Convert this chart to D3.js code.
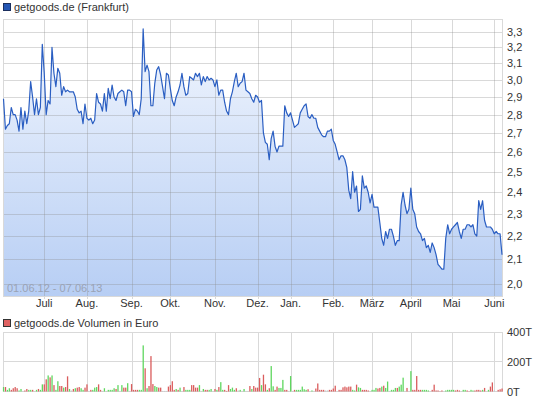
<!DOCTYPE html>
<html>
<head>
<meta charset="utf-8">
<script src="https://cdn.jsdelivr.net/npm/d3@7"></script>
<style>
  body { margin: 0; background: #fff; }
  svg text { font-family: "Liberation Sans", Arial, sans-serif; font-size: 11px; fill: #333; }
</style>
</head>
<body>
<svg id="chart" width="545" height="401"></svg>
<script>
// one close per trading day, 01.06.12 - 07.06.13
const closes = [
  2.89,2.72,2.74,2.75,2.84,2.80,2.80,2.77,2.71,2.84,
  2.72,2.82,2.75,2.82,2.99,2.90,2.80,2.89,2.80,2.84,
  3.22,3.04,2.80,2.88,2.86,3.20,3.04,2.96,3.07,3.04,
  2.91,2.96,2.93,2.94,2.93,2.93,2.93,2.90,2.83,2.81,
  2.82,2.75,2.86,2.78,2.77,2.78,2.75,2.77,2.92,2.87,
  2.86,2.82,2.92,2.82,2.95,2.89,2.97,2.90,2.88,2.92,
  2.93,2.94,2.93,2.85,2.94,2.94,2.93,2.79,2.83,2.82,
  2.80,2.89,3.32,3.05,3.09,3.05,2.85,2.85,2.98,3.06,
  3.08,3.03,2.96,2.89,3.04,3.03,2.95,2.88,2.85,2.90,
  2.93,2.97,3.04,2.96,2.91,2.92,3.02,3.01,3.00,3.04,
  3.02,3.04,2.97,3.02,2.99,3.02,3.00,3.01,3.00,2.96,
  3.00,2.91,2.94,2.94,2.87,2.82,2.80,2.89,2.93,2.99,
  3.04,2.96,2.98,2.99,3.04,2.94,2.93,2.92,2.89,2.87,
  2.91,2.90,2.87,2.88,2.70,2.65,2.64,2.56,2.67,2.71,
  2.63,2.60,2.63,2.63,2.63,2.85,2.81,2.79,2.81,2.77,
  2.73,2.74,2.75,2.81,2.83,2.85,2.86,2.79,2.78,2.80,
  2.78,2.78,2.73,2.71,2.69,2.68,2.68,2.71,2.71,2.72,
  2.66,2.64,2.60,2.56,2.58,2.58,2.56,2.52,2.41,2.37,
  2.50,2.40,2.43,2.31,2.32,2.48,2.42,2.43,2.40,2.35,
  2.39,2.33,2.33,2.33,2.26,2.19,2.16,2.22,2.19,2.23,
  2.23,2.20,2.16,2.18,2.18,2.34,2.40,2.34,2.30,2.32,
  2.42,2.32,2.30,2.24,2.22,2.21,2.18,2.19,2.15,2.16,
  2.13,2.17,2.15,2.12,2.08,2.07,2.06,2.06,2.19,2.25,
  2.21,2.23,2.24,2.25,2.26,2.22,2.19,2.23,2.23,2.25,
  2.25,2.24,2.25,2.21,2.20,2.36,2.32,2.36,2.27,2.24,
  2.24,2.24,2.23,2.21,2.22,2.21,2.21,2.12
];

// turnover in thousand euro, same trading days
const volumes = [
  30,30,11,22,11,22,30,22,7,17,
  4,7,17,11,11,11,3,11,17,11,
  48,48,82,108,95,108,43,11,69,37,
  37,26,30,102,17,7,17,22,26,30,
  22,11,26,48,4,11,11,26,30,48,
  11,4,22,4,11,11,11,22,17,43,
  4,43,26,26,56,4,50,11,11,11,
  11,11,310,156,22,37,238,50,37,30,
  26,26,4,4,4,33,43,69,11,17,
  11,26,4,30,11,11,11,43,43,26,
  26,43,4,17,11,11,11,17,4,17,
  11,30,63,11,11,4,43,17,26,11,
  22,7,11,4,17,4,4,37,17,37,
  26,26,91,43,113,48,11,22,171,35,
  11,33,24,24,78,11,11,4,104,4,
  11,11,11,11,33,15,11,15,2,7,
  4,20,54,11,11,11,7,7,11,11,
  20,39,2,11,11,28,33,28,33,33,
  11,7,46,28,24,11,11,11,7,4,
  11,11,24,20,24,33,39,24,67,4,
  11,11,24,24,33,46,93,4,24,4,
  137,11,11,104,11,11,11,11,11,7,
  2,11,46,7,7,2,7,2,7,11,
  11,11,11,7,11,7,2,11,11,7,
  2,11,7,7,11,11,7,11,24,2,
  11,33,61,7,2,11,15,20
];

// g = up day, r = down day, n = unchanged
const volumeMove = (
  "grggrrrrgg" + "nrrggrngrg" + "grrgrgrggr" + "rgrrgnrgrr" + "ggrrnrgggr" +
  "rngnggggrg" + "ngrrgnrrrr" + "gggrgrrrgg" + "rrnnnrrrrg" + "rgnrgggrrr" +
  "rgngrrggnr" + "grggrrrggg" + "rngngnnrgr" + "rrrgrrgrgg" + "rrgggrrngn" +
  "rggggggrng" + "nrrrrrnnrr" + "rrnrrrrrrr" + "ggrggrrrrn" + "gggrrgrggn" +
  "gggrgggnrn" + "grrrrrgggg" + "nrrrrrrngg" + "gggrrrnggr" + "rggrrrrgrn" +
  "grrnnrrr"
).split("");

const monthLabels = ["Juli", "Aug.", "Sep.", "Okt.", "Nov.", "Dez.", "Jan.", "Feb.", "März", "April", "Mai", "Juni"];
const monthStart = [21, 43, 66, 86, 109, 131, 148, 170, 190, 210, 231, 253]; // trading day index
const priceTicks = [2.0, 2.1, 2.2, 2.3, 2.4, 2.5, 2.6, 2.7, 2.8, 2.9, 3.0, 3.1, 3.2, 3.3];
const volumeTicks = [0, 200, 400];
const rangeLabel = "01.06.12 - 07.06.13";


const svg = d3.select("#chart");

const left = 3, right = 503;
const top1 = 19, bottom1 = 296;
const top2 = 332, bottom2 = 391.5;

const x = d3.scaleLinear().domain([0, closes.length - 1]).range([3.5, 502]);
const y = d3.scaleLog().domain([1.953, 3.386]).range([bottom1, top1]);
const yVol = d3.scaleLinear().domain([0, 400]).range([bottom2, top2]);

const fmt = d => d.toFixed(1).replace(".", ",");
const px = v => Math.round(v) + 0.5;

// gradient for the area
const grad = svg.append("defs").append("linearGradient")
    .attr("id", "areaFill")
    .attr("gradientUnits", "userSpaceOnUse")
    .attr("x1", 0).attr("y1", top1).attr("x2", 0).attr("y2", bottom1);
grad.append("stop").attr("offset", "0%").attr("stop-color", "#f3f7fe");
grad.append("stop").attr("offset", "100%").attr("stop-color", "#b7cef4");

// legend 1
svg.append("rect").attr("x", 3.5).attr("y", 3.5).attr("width", 7).attr("height", 7)
    .attr("fill", "#2456b4").attr("stroke", "#1b2f5e");
svg.append("text").attr("x", 14).attr("y", 11).text("getgoods.de (Frankfurt)");

// price panel frame + grid
const g1 = svg.append("g");

g1.append("path")
    .datum(closes)
    .attr("fill", "url(#areaFill)")
    .attr("d", d3.area()
        .x((d, i) => x(i))
        .y0(bottom1)
        .y1(d => y(d)));

g1.selectAll(".hgrid")
    .data(priceTicks)
    .join("line")
    .attr("x1", left).attr("x2", right)
    .attr("y1", d => px(y(d))).attr("y2", d => px(y(d)))
    .attr("stroke", "rgba(140,140,140,0.33)");

g1.selectAll(".vgrid")
    .data(monthStart)
    .join("line")
    .attr("x1", d => px(x(d))).attr("x2", d => px(x(d)))
    .attr("y1", top1).attr("y2", bottom1 + 3)
    .attr("stroke", "rgba(140,140,140,0.33)");

g1.append("rect")
    .attr("x", left + 0.5).attr("y", top1 + 0.5)
    .attr("width", right - left - 1).attr("height", bottom1 - top1)
    .attr("fill", "none").attr("stroke", "#d9d9d9");

g1.append("path")
    .datum(closes)
    .attr("fill", "none")
    .attr("stroke", "#2a5ec2")
    .attr("stroke-width", 1.2)
    .attr("stroke-linejoin", "round")
    .attr("d", d3.line().x((d, i) => x(i)).y(d => y(d)));

g1.append("text")
    .attr("x", 7).attr("y", 292)
    .style("fill", "#9aa3b5")
    .text(rangeLabel);

g1.selectAll(".ylab")
    .data(priceTicks)
    .join("text")
    .attr("x", 507)
    .attr("y", d => y(d) + 4)
    .text(fmt);

g1.selectAll(".xlab")
    .data(monthStart)
    .join("text")
    .attr("x", d => x(d))
    .attr("y", 307)
    .attr("text-anchor", "middle")
    .text((d, i) => monthLabels[i]);

// legend 2
svg.append("rect").attr("x", 3.5).attr("y", 319.5).attr("width", 7).attr("height", 7)
    .attr("fill", "#e06262").attr("stroke", "#333");
svg.append("text").attr("x", 14).attr("y", 327).text("getgoods.de Volumen in Euro");

// volume panel
const g2 = svg.append("g");

g2.selectAll(".vgrid2")
    .data(monthStart)
    .join("line")
    .attr("x1", d => px(x(d))).attr("x2", d => px(x(d)))
    .attr("y1", top2).attr("y2", bottom2)
    .attr("stroke", "#d9d9d9");

g2.selectAll(".hgrid2")
    .data(volumeTicks)
    .join("line")
    .attr("x1", left).attr("x2", right)
    .attr("y1", d => px(yVol(d) - 0.5)).attr("y2", d => px(yVol(d) - 0.5))
    .attr("stroke", "#d9d9d9");

g2.append("line")
    .attr("x1", left + 0.5).attr("x2", left + 0.5)
    .attr("y1", top2).attr("y2", bottom2)
    .attr("stroke", "#d9d9d9");
g2.append("line")
    .attr("x1", right - 0.5).attr("x2", right - 0.5)
    .attr("y1", top2).attr("y2", bottom2)
    .attr("stroke", "#d9d9d9");

const moveColor = { g: "#5fd75f", r: "#da5d5d", n: "#c4c4c4" };

g2.selectAll(".bar")
    .data(volumes)
    .join("rect")
    .attr("x", (d, i) => x(i) - 0.6)
    .attr("width", 1.3)
    .attr("y", d => yVol(d))
    .attr("height", d => bottom2 - yVol(d))
    .attr("fill", (d, i) => moveColor[volumeMove[i]]);

g2.selectAll(".vlab")
    .data(volumeTicks)
    .join("text")
    .attr("x", 507)
    .attr("y", d => yVol(d) + 4)
    .text(d => d + "T");
</script>
</body>
</html>
